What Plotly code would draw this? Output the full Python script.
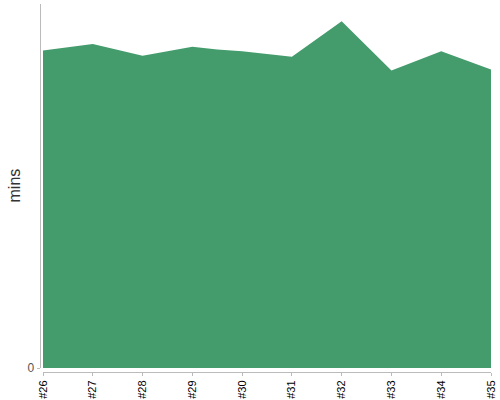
import plotly.graph_objects as go

# data
x_pos = [26, 27, 28, 29, 29.5, 30, 31, 32, 33, 34, 35]
mins = [34.9, 35.6, 34.3, 35.3, 35.0, 34.8, 34.2, 38.1, 32.7, 34.8, 32.8]
tick_pos = [26, 27, 28, 29, 30, 31, 32, 33, 34, 35]
tick_labels = ["#26", "#27", "#28", "#29", "#30", "#31", "#32", "#33", "#34", "#35"]
y_title = "mins"

W, H = 500, 400
FONT = "Liberation Sans, Arial, sans-serif"

fig = go.Figure()
fig.add_trace(go.Scatter(
    x=x_pos, y=mins, mode="lines", fill="tozeroy",
    line=dict(color="#449C6D", width=0),
    fillcolor="#449C6D", hoverinfo="skip", showlegend=False,
))

fig.update_layout(
    width=W, height=H,
    margin=dict(l=0, r=0, t=0, b=0, autoexpand=False),
    paper_bgcolor="white", plot_bgcolor="white",
    font=dict(family=FONT),
    xaxis=dict(
        domain=[43 / W, 491 / W],
        anchor="free", position=(H - 372) / H,
        range=[26, 35],
        tickmode="array", tickvals=tick_pos, ticktext=tick_labels,
        tickangle=-90,
        tickfont=dict(size=11, color="#000000", family=FONT),
        ticks="outside", ticklen=3, tickcolor="#bbbbbb",
        showline=True, linecolor="#bbbbbb", linewidth=1,
        showgrid=False, zeroline=False, automargin=False,
    ),
    yaxis=dict(
        domain=[(H - 368) / H, (H - 4) / H],
        anchor="free", position=39.5 / W,
        range=[0, 40],
        tickmode="array", tickvals=[0], ticktext=["0"],
        tickfont=dict(size=12, color="#555555", family=FONT),
        ticks="outside", ticklen=3, tickcolor="#bbbbbb",
        showline=True, linecolor="#bbbbbb", linewidth=1,
        showgrid=False, zeroline=False, automargin=False,
    ),
    annotations=[dict(
        text=y_title, textangle=-90, showarrow=False,
        xref="paper", yref="paper", x=13.5 / W, y=(H - 186) / H,
        xanchor="center", yanchor="middle",
        font=dict(size=16, color="#333333", family=FONT),
    )],
)

fig.write_html(
    "out.html",
    config={"displayModeBar": False},
    post_script="document.body.style.margin='0';document.body.style.overflow='hidden';",
)
